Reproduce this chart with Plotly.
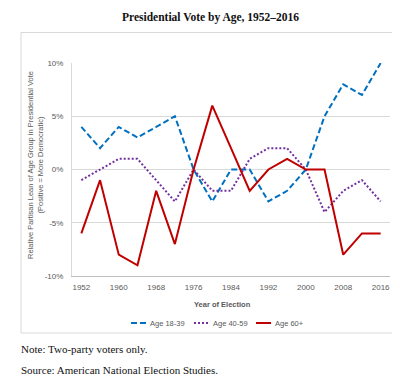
import plotly.graph_objects as go

years = [1952, 1956, 1960, 1964, 1968, 1972, 1976, 1980, 1984, 1988,
         1992, 1996, 2000, 2004, 2008, 2012, 2016]
age_18_39 = [4, 2, 4, 3, 4, 5, 0, -3, 0, 0, -3, -2, 0, 5, 8, 7, 10]
age_40_59 = [-1, 0, 1, 1, -1, -3, 0, -2, -2, 1, 2, 2, 0, -4, -2, -1, -3]
age_60_plus = [-6, -1, -8, -9, -2, -7, 0, 6, 2, -2, 0, 1, 0, 0, -8, -6, -6]
x_ticks = [1952, 1960, 1968, 1976, 1984, 1992, 2000, 2008, 2016]
y_ticks = [-10, -5, 0, 5, 10]
y_tick_labels = ["-10%", "-5%", "0%", "5%", "10%"]
series_names = ["Age 18-39", "Age 40-59", "Age 60+"]

W, H = 400, 377
L, R, T, B = 64, 18, 55, 109
pw, ph = W - L - R, H - T - B


def px_x(p):
    return (p - L) / pw


def px_y(p):
    return (H - B - p) / ph


sans = "Liberation Sans, Arial, sans-serif"
grey = "#595959"
axis_font = dict(family=sans, size=8, color=grey)
serif = "Liberation Serif, Times New Roman, serif"

styles = [
    dict(color="#0070C0", width=2, dash="6px,3px"),
    dict(color="#7030A0", width=2, dash="2px,2px"),
    dict(color="#C00000", width=2),
]
series = [age_18_39, age_40_59, age_60_plus]

fig = go.Figure()
for name, vals, st in zip(series_names, series, styles):
    fig.add_trace(go.Scatter(x=years, y=vals, name=name, mode="lines", line=st,
                             showlegend=False))

# custom compact legend (Excel style: short symbol, text right after)
legend_y = px_y(315)
legend_pos = [(123, 138, 140), (186, 201, 203), (248, 263, 265)]
shapes = [dict(type="rect", xref="paper", yref="paper",
               x0=px_x(13), x1=px_x(391), y0=px_y(325), y1=px_y(24.5),
               line=dict(color="#d9d9d9", width=1), fillcolor="rgba(0,0,0,0)",
               layer="below")]
annotations = []
for name, st, (a, b, t) in zip(series_names, styles, legend_pos):
    shapes.append(dict(type="line", xref="paper", yref="paper",
                       x0=px_x(a), x1=px_x(b), y0=legend_y, y1=legend_y,
                       line=dict(color=st["color"], width=2, dash=st.get("dash", "solid"))))
    annotations.append(dict(text=name, xref="paper", yref="paper", x=px_x(t), y=legend_y,
                            xanchor="left", yanchor="middle", showarrow=False,
                            font=dict(family=sans, size=7.5, color=grey)))

annotations += [
    dict(text="<b>Presidential Vote by Age, 1952\u20132016</b>", xref="paper", yref="paper",
         x=px_x(202), y=px_y(9), xanchor="center", yanchor="middle", showarrow=False,
         font=dict(family=serif, size=11.5, color="#111111")),
    dict(text="Relative Partisan Lean of Age Group in Presidential Vote<br>(Positive = More Democratic)",
         xref="paper", yref="paper", x=px_x(27), y=px_y(157), xanchor="center", yanchor="middle",
         textangle=-90, showarrow=False,
         font=dict(family=sans, size=7.5, color=grey)),
    dict(text="<b>Year of Election</b>", xref="paper", yref="paper",
         x=px_x(214), y=px_y(296), xanchor="center", yanchor="middle", showarrow=False,
         font=dict(family=sans, size=7.5, color=grey)),
    dict(text="Note: Two-party voters only.", xref="paper", yref="paper",
         x=px_x(11), y=px_y(341), xanchor="left", yanchor="middle", showarrow=False,
         font=dict(family=serif, size=11, color="#111111")),
    dict(text="Source: American National Election Studies.", xref="paper", yref="paper",
         x=px_x(11), y=px_y(362), xanchor="left", yanchor="middle", showarrow=False,
         font=dict(family=serif, size=11, color="#111111")),
]

fig.update_layout(
    width=W, height=H,
    margin=dict(l=L, r=R, t=T, b=B),
    paper_bgcolor="white", plot_bgcolor="white",
    showlegend=False,
    xaxis=dict(range=[1950, 2018], tickvals=x_ticks, showgrid=False,
               showline=True, linecolor="#bfbfbf", linewidth=1,
               zeroline=False, tickfont=axis_font, ticks="", ticklabelstandoff=3,
               fixedrange=True),
    yaxis=dict(range=[-10, 10], tickvals=y_ticks, ticktext=y_tick_labels,
               showgrid=True, gridcolor="#d9d9d9", gridwidth=1,
               zeroline=False, showline=True, linecolor="#d9d9d9",
               tickfont=axis_font, ticks="", ticklabelstandoff=6,
               fixedrange=True),
    shapes=shapes,
    annotations=annotations,
)

fig.write_html("out.html", config={"displayModeBar": False})
